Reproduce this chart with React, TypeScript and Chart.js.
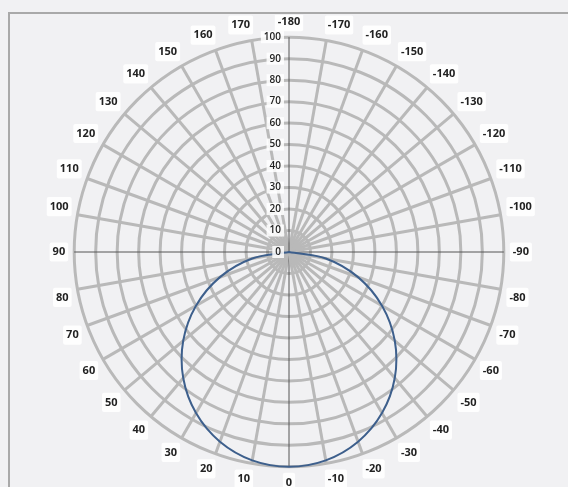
import React, { useEffect, useRef } from "react";
import { Chart, registerables } from "chart.js";

Chart.register(...registerables);

const angleLabels: string[] = [
  "-180", "-170", "-160", "-150", "-140", "-130", "-120", "-110", "-100",
  "-90", "-80", "-70", "-60", "-50", "-40", "-30", "-20", "-10",
  "0", "10", "20", "30", "40", "50", "60", "70", "80",
  "90", "100", "110", "120", "130", "140", "150", "160", "170",
];

const patternValues: number[] = [
  0, 0, 0, 0, 0, 0, 0, 0, 0,
  0, 17.4, 34.2, 50, 64.3, 76.6, 86.6, 94, 98.5,
  100, 98.5, 94, 86.6, 76.6, 64.3, 50, 34.2, 17.4,
  0, 0, 0, 0, 0, 0, 0, 0, 0,
];

const radialMin = 0;
const radialMax = 100;
const radialStep = 10;

const axisIdx = [0, 9, 18, 27];

const tickPlugin = {
  id: "leftTicks",
  afterDatasetsDraw(chart: any) {
    const s = chart.scales.r;
    const ctx = chart.ctx;
    ctx.save();
    ctx.font = '600 10px "Open Sans"';
    ctx.textAlign = "right";
    ctx.textBaseline = "middle";
    s.ticks.forEach((t: any) => {
      const d = s.getDistanceFromCenterForValue(t.value);
      const x = s.xCenter - 8;
      const y = s.yCenter - d;
      const w = ctx.measureText(t.label).width;
      ctx.fillStyle = "rgba(255,255,255,0.85)";
      ctx.fillRect(x - w - 3, y - 6, w + 6, 12);
      ctx.fillStyle = "#222";
      ctx.fillText(t.label, x, y);
    });
    ctx.restore();
  },
};

export default function App() {
  const ref = useRef<HTMLCanvasElement | null>(null);
  useEffect(() => {
    document.body.style.margin = "0";
    document.body.style.background = "#f1f1f3";
    if (!ref.current) return;
    const chart = new Chart(ref.current, {
      type: "radar",
      data: {
        labels: angleLabels,
        datasets: [
          {
            data: patternValues,
            borderColor: "#3d5f8c",
            borderWidth: 2,
            backgroundColor: "transparent",
            fill: false,
            pointRadius: 0,
            tension: 0.35,
          },
        ],
      },
      options: {
        responsive: false,
        animation: false,
        plugins: { legend: { display: false }, tooltip: { enabled: false } },
        layout: { padding: 0 },
        scales: {
          r: {
            min: radialMin,
            max: radialMax,
            startAngle: 0,
            ticks: { stepSize: radialStep, display: false },
            grid: { circular: true, color: "#b9b9b9", lineWidth: 3 },
            angleLines: {
              color: (c: any) => (axisIdx.includes(c.index) ? "#555" : "#b9b9b9"),
              lineWidth: (c: any) => (axisIdx.includes(c.index) ? 1 : 3),
            },
            pointLabels: {
              font: { family: '"Open Sans"', size: 11, weight: "bold" },
              color: "#222",
              backdropColor: "rgba(255,255,255,0.92)",
              backdropPadding: 3,
              borderRadius: 2,
              padding: 9,
            },
          },
        },
      },
      plugins: [tickPlugin],
    });
    return () => chart.destroy();
  }, []);
  return (
    <div style={{ position: "relative", width: 568, height: 487, overflow: "hidden", background: "#f1f1f3" }}>
      <div
        style={{
          position: "absolute",
          left: 8,
          top: 12,
          right: -4,
          bottom: -4,
          borderTop: "2px solid #a9a9a9",
          borderLeft: "2px solid #a9a9a9",
        }}
      />
      <canvas ref={ref} width={568} height={474} style={{ position: "absolute", left: 5, top: 15 }} />
    </div>
  );
}
